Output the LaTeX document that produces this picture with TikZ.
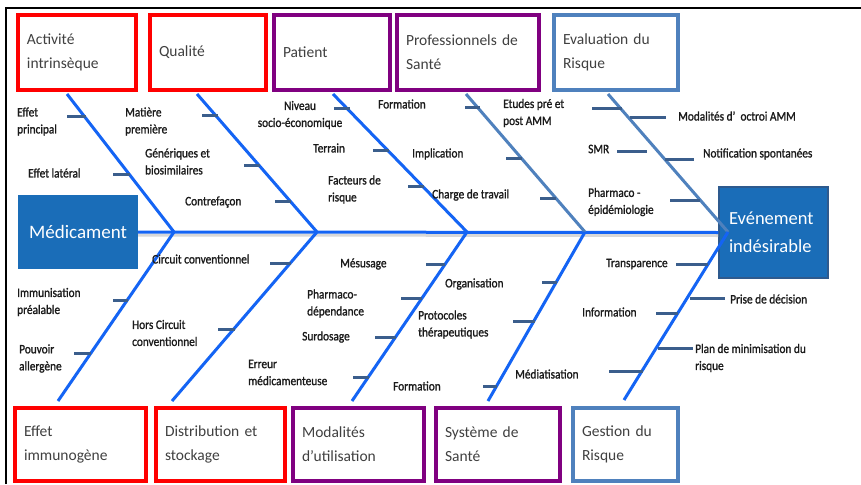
\documentclass[tikz,border=0pt]{standalone}
\usepackage{fontspec}
\setmainfont{Carlito}
\newfontfamily\labfont[FakeStretch=0.87,FakeBold=1.2]{Carlito}
\definecolor{redc}{HTML}{FF0000}
\definecolor{purc}{HTML}{800080}
\definecolor{steelc}{HTML}{4F81BD}
\definecolor{bonec}{HTML}{1464F4}
\definecolor{tickc}{HTML}{3B5E8C}
\definecolor{medc}{HTML}{1A6DB8}
\definecolor{evborder}{HTML}{2E5A8E}
\definecolor{boxtext}{HTML}{404040}
\definecolor{labtext}{HTML}{1A1A1A}
\begin{document}
\begin{tikzpicture}[x=1pt,y=-1pt,
  cat/.style={draw, line width=4pt, inner xsep=9pt, inner ysep=0pt, align=left,
    font=\fontsize{15.5}{24}\selectfont, text=boxtext},
  topcat/.style={cat, minimum height=75pt},
  botcat/.style={cat, minimum height=73pt},
  lab/.style={inner sep=0pt, anchor=west, align=left, text=labtext,
    font=\labfont\fontsize{13}{17}\selectfont},
  bone/.style={line width=3pt, bonec},
  sbone/.style={line width=3pt, steelc},
  tick/.style={line width=3pt, tickc}]
\useasboundingbox (0,0) rectangle (861,484);
\fill[white] (0,0) rectangle (861,484);
% frame
\draw[line width=2pt] (5.5,484) -- (5.5,8.5) -- (861,8.5);

% top category boxes
\node[topcat, draw=redc, text width=100pt] (act) at (77,52.5) {Activité\\intrinsèque};
\node[topcat, draw=redc, text width=98pt] (qual) at (208,52.5) {Qualité};
\node[topcat, draw=purc, text width=98pt] (pat) at (332,52.5) {Patient};
\node[topcat, draw=purc, text width=124pt] (prof) at (468,52.5) {Professionnels de\\Santé};
\node[topcat, draw=steelc, text width=106pt] (eval) at (616,52.5) {Evaluation du\\Risque};

% bottom category boxes
\node[botcat, draw=redc, text width=113pt] (imm) at (80.5,444.5) {Effet\\immunogène};
\node[botcat, draw=redc, text width=111pt] (dist) at (220.5,444.5) {Distribution et\\stockage};
\node[botcat, draw=purc, text width=113pt] (mod) at (358.5,444.5) {Modalités\\d’utilisation};
\node[botcat, draw=purc, text width=106pt] (sys) at (498,444.5) {Système de\\Santé};
\node[botcat, draw=steelc, text width=87pt] (gest) at (625.5,444.5) {Gestion du\\Risque};

% head and tail
\node[fill=medc, minimum width=120pt, minimum height=74pt, inner sep=0pt, text=white,
  font=\fontsize{19}{22}\selectfont] (med) at (78,232) {Médicament};
\node[fill=medc, draw=evborder, line width=1.5pt, minimum width=109pt, minimum height=91pt,
  inner xsep=10pt, text width=89pt, align=left, text=white,
  font=\fontsize{18.5}{28}\selectfont] (ev) at (773.5,232.5) {Evénement\\indésirable};

% spine
\draw[line width=3pt, black!25, opacity=0.6] ([yshift=-3pt]med.east) -- ([yshift=-3pt]ev.west);
\draw[bone] (med.east) -- (ev.west);

\coordinate (J1) at (174,232);
\coordinate (J2) at (317,232);
\coordinate (J3) at (467,232);
\coordinate (J4) at (585,232);
\coordinate (J5) at (728,232);

% top bones
\draw[bone] ([xshift=-10pt,yshift=-2pt]act.south) -- (J1);
\draw[bone] ([xshift=-11pt,yshift=-2pt]qual.south) -- (J2);
\draw[bone] ([xshift=1pt,yshift=-2pt]pat.south) -- (J3);
\draw[sbone] ([xshift=-2pt,yshift=-2pt]prof.south) -- (J4);
\draw[sbone] ([xshift=-8pt,yshift=-2pt]eval.south) -- (J5);

% bottom bones
\draw[bone] (J1) -- ([xshift=-22.5pt,yshift=5pt]imm.north);
\draw[bone] (J2) -- ([xshift=-48.5pt,yshift=5pt]dist.north);
\draw[bone] (J3) -- ([xshift=-6.5pt,yshift=5pt]mod.north);
\draw[bone] (J4) -- ([xshift=-10pt,yshift=5pt]sys.north);
\draw[bone] (J5) -- ([xshift=-1.5pt,yshift=6pt]gest.north);

% ticks top
\draw[tick] (67,117) -- (86,117);
\draw[tick] (113,174) -- (130,174);
\draw[tick] (202,116) -- (218,116);
\draw[tick] (244,165) -- (260,165);
\draw[tick] (275,201) -- (291,201);
\draw[tick] (334,109) -- (350,109);
\draw[tick] (373,150) -- (389,150);
\draw[tick] (408,186) -- (424,186);
\draw[tick] (465,108) -- (480,108);
\draw[tick] (506,158) -- (522,158);
\draw[tick] (540,198) -- (556,198);
\draw[tick] (592,109) -- (622,109);
\draw[tick] (630,118) -- (666,118);
\draw[tick] (617,151) -- (647,151);
\draw[tick] (665,159) -- (694,159);
\draw[tick] (670,200) -- (700,200);

% ticks bottom
\draw[tick] (270,263) -- (291,263);
\draw[tick] (113,300) -- (128,300);
\draw[tick] (74,353) -- (91,353);
\draw[tick] (218,329) -- (235,329);
\draw[tick] (353,377) -- (369,377);
\draw[tick] (426,264) -- (445,264);
\draw[tick] (401,298) -- (422,298);
\draw[tick] (375,337) -- (396,337);
\draw[tick] (542,282) -- (557,282);
\draw[tick] (513,321) -- (535,321);
\draw[tick] (483,386) -- (497,386);
\draw[tick] (609,371) -- (643,371);
\draw[tick] (676,264) -- (708,264);
\draw[tick] (690,298) -- (725,298);
\draw[tick] (656,313) -- (678,313);
\draw[tick] (658,348) -- (693,348);

% labels top
\node[lab] (l1) at (17,121.5) {Effet\\principal};
\node[lab] (l2) at (28,173) {Effet latéral};
\node[lab] (l3) at (125,121.5) {Matière\\première};
\node[lab] (l4) at (145,161.5) {Génériques et\\biosimilaires};
\node[lab] (l5) at (185,202) {Contrefaçon};
\node[lab, anchor=center, align=center] (l6) at (300,115) {Niveau\\socio-économique};
\node[lab] (l7) at (378,104) {Formation};
\node[lab] (l8) at (503,113) {Etudes pré et\\post AMM};
\node[lab] (l9) at (313,148) {Terrain};
\node[lab] (l10) at (412,154) {Implication};
\node[lab] (l11) at (328,189.5) {Facteurs de\\risque};
\node[lab] (l12) at (432,195) {Charge de travail};
\node[lab] (l13) at (678,116) {Modalités d’~~octroi AMM};
\node[lab] (l14) at (588,149) {SMR};
\node[lab] (l15) at (703,154) {Notification spontanées};
\node[lab] (l16) at (588,202) {Pharmaco -\\épidémiologie};

% labels bottom
\node[lab] (m1) at (152,259) {Circuit conventionnel};
\node[lab] (m2) at (17,302) {Immunisation\\préalable};
\node[lab] (m3) at (19,358.5) {Pouvoir\\allergène};
\node[lab] (m4) at (132,333) {Hors Circuit\\conventionnel};
\node[lab] (m5) at (248,372.5) {Erreur\\médicamenteuse};
\node[lab] (m6) at (340,264) {Mésusage};
\node[lab] (m7) at (307,303.5) {Pharmaco-\\dépendance};
\node[lab] (m8) at (302,337) {Surdosage};
\node[lab] (m9) at (445,284) {Organisation};
\node[lab] (m10) at (418,324.5) {Protocoles\\thérapeutiques};
\node[lab] (m11) at (393,386) {Formation};
\node[lab] (m12) at (515,374) {Médiatisation};
\node[lab] (m13) at (606,264) {Transparence};
\node[lab] (m14) at (730,299) {Prise de décision};
\node[lab] (m15) at (582,312) {Information};
\node[lab] (m16) at (695,358) {Plan de minimisation du\\risque};
\end{tikzpicture}
\end{document}
